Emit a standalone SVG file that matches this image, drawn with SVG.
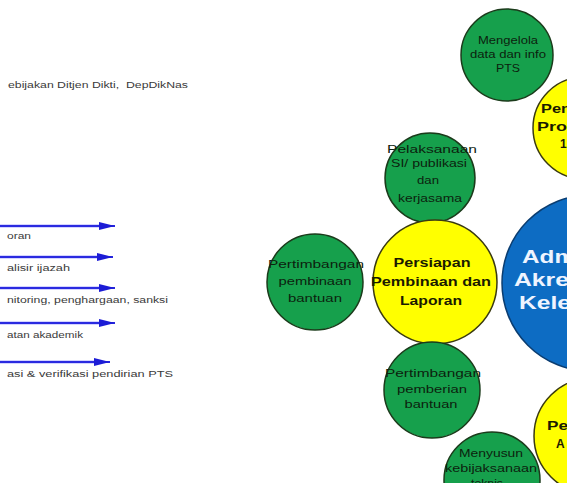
<svg xmlns="http://www.w3.org/2000/svg" width="567" height="483" viewBox="0 0 567 483">
<style>
.g{fill:#16a04c;stroke:#1b3b1b;stroke-width:1.5}
.y{fill:#ffff00;stroke:#3a3a10;stroke-width:1.5}
.b{fill:#0d6cc3;stroke:#0b3d70;stroke-width:1.5}
.gt{font-family:"Liberation Sans",Arial,sans-serif;font-size:10.5px;fill:#0c220e;text-anchor:middle}
.yt{font-family:"Liberation Sans",Arial,sans-serif;font-size:12px;font-weight:bold;fill:#1a1a00;text-anchor:middle}
.ys{font-family:"Liberation Sans",Arial,sans-serif;font-size:12px;font-weight:bold;fill:#1a1a00}
.bt{font-family:"Liberation Sans",Arial,sans-serif;font-size:18px;font-weight:bold;fill:#eef4ff}
.lt{font-family:"Liberation Sans",Arial,sans-serif;font-size:8.5px;fill:#3a3a3a;white-space:pre}
.ar{stroke:#2a2ae0;stroke-width:2;fill:none}
.ah{stroke:#b8b8ff;stroke-width:4;fill:none;opacity:0.6}
</style>
<defs>
<marker id="arr" markerUnits="userSpaceOnUse" markerWidth="17" markerHeight="9" refX="16" refY="4.5" orient="auto">
<path d="M0,0.5 L16,4.5 L0,8.5 z" fill="#1c1cd6"/>
</marker>
</defs>
<rect width="567" height="483" fill="#ffffff"/>

<g id="left-texts">
<text class="lt" x="8" y="88" textLength="180" lengthAdjust="spacingAndGlyphs">ebijakan Ditjen Dikti,  DepDikNas</text>
<text class="lt" x="7" y="239" textLength="24" lengthAdjust="spacingAndGlyphs">oran</text>
<text class="lt" x="7" y="271" textLength="63" lengthAdjust="spacingAndGlyphs">alisir ijazah</text>
<text class="lt" x="7" y="303" textLength="161" lengthAdjust="spacingAndGlyphs">nitoring, penghargaan, sanksi</text>
<text class="lt" x="7" y="338" textLength="76" lengthAdjust="spacingAndGlyphs">atan akademik</text>
<text class="lt" x="7" y="377" textLength="166" lengthAdjust="spacingAndGlyphs">asi &amp; verifikasi pendirian PTS</text>
</g>

<g id="connectors">
<line class="ah" x1="0" y1="226" x2="100" y2="226"/>
<line class="ar" x1="0" y1="226" x2="115" y2="226" marker-end="url(#arr)"/>
<line class="ah" x1="0" y1="257" x2="98" y2="257"/>
<line class="ar" x1="0" y1="257" x2="113" y2="257" marker-end="url(#arr)"/>
<line class="ah" x1="0" y1="288" x2="100" y2="288"/>
<line class="ar" x1="0" y1="288" x2="115" y2="288" marker-end="url(#arr)"/>
<line class="ah" x1="0" y1="323" x2="100" y2="323"/>
<line class="ar" x1="0" y1="323" x2="115" y2="323" marker-end="url(#arr)"/>
<line class="ah" x1="0" y1="362" x2="95" y2="362"/>
<line class="ar" x1="0" y1="362" x2="110" y2="362" marker-end="url(#arr)"/>
</g>

<g id="node-mengelola">
<circle class="g" cx="507" cy="55" r="46"/>
<text class="gt" x="508" y="44" textLength="60" lengthAdjust="spacingAndGlyphs">Mengelola</text>
<text class="gt" x="508" y="58" textLength="76" lengthAdjust="spacingAndGlyphs">data dan info</text>
<text class="gt" x="508" y="72" textLength="24" lengthAdjust="spacingAndGlyphs">PTS</text>
</g>

<g id="node-program">
<circle class="y" cx="584" cy="128" r="51"/>
<text class="ys" x="541" y="113" textLength="30" lengthAdjust="spacingAndGlyphs">Pen</text>
<text class="ys" x="537" y="131" textLength="30" lengthAdjust="spacingAndGlyphs">Pro</text>
<text class="ys" x="560" y="148">1</text>
</g>

<g id="node-administrasi">
<circle class="b" cx="590" cy="283" r="88"/>
<text class="bt" x="522" y="263" textLength="54" lengthAdjust="spacingAndGlyphs">Adm</text>
<text class="bt" x="514" y="286" textLength="55" lengthAdjust="spacingAndGlyphs">Akre</text>
<text class="bt" x="519" y="309" textLength="52" lengthAdjust="spacingAndGlyphs">Kele</text>
</g>

<g id="node-pelaksanaan">
<circle class="g" cx="430" cy="178" r="45"/>
<text class="gt" x="432" y="153" textLength="90" lengthAdjust="spacingAndGlyphs">Pelaksanaan</text>
<text class="gt" x="429" y="167" textLength="76" lengthAdjust="spacingAndGlyphs">SI/ publikasi</text>
<text class="gt" x="428" y="184" textLength="22" lengthAdjust="spacingAndGlyphs">dan</text>
<text class="gt" x="430" y="202" textLength="64" lengthAdjust="spacingAndGlyphs">kerjasama</text>
</g>

<g id="node-persiapan">
<circle class="y" cx="435" cy="282" r="62"/>
<text class="yt" x="432" y="267" textLength="77" lengthAdjust="spacingAndGlyphs">Persiapan</text>
<text class="yt" x="431" y="286" textLength="120" lengthAdjust="spacingAndGlyphs">Pembinaan dan</text>
<text class="yt" x="431" y="305" textLength="62" lengthAdjust="spacingAndGlyphs">Laporan</text>
</g>

<g id="node-pembinaan-bantuan">
<circle class="g" cx="315" cy="282" r="48"/>
<text class="gt" x="316" y="268" textLength="96" lengthAdjust="spacingAndGlyphs">Pertimbangan</text>
<text class="gt" x="315" y="285" textLength="73" lengthAdjust="spacingAndGlyphs">pembinaan</text>
<text class="gt" x="315" y="302" textLength="54" lengthAdjust="spacingAndGlyphs">bantuan</text>
</g>

<g id="node-pemberian-bantuan">
<circle class="g" cx="432" cy="390" r="48"/>
<text class="gt" x="433" y="377" textLength="96" lengthAdjust="spacingAndGlyphs">Pertimbangan</text>
<text class="gt" x="432" y="393" textLength="70" lengthAdjust="spacingAndGlyphs">pemberian</text>
<text class="gt" x="431" y="408" textLength="53" lengthAdjust="spacingAndGlyphs">bantuan</text>
</g>

<g id="node-akreditasi">
<circle class="y" cx="592" cy="436" r="58"/>
<text class="ys" x="547" y="430" textLength="21" lengthAdjust="spacingAndGlyphs">Pe</text>
<text class="ys" x="556" y="448">A</text>
</g>

<g id="node-menyusun">
<circle class="g" cx="492" cy="480" r="48"/>
<text class="gt" x="491" y="457" textLength="64" lengthAdjust="spacingAndGlyphs">Menyusun</text>
<text class="gt" x="491" y="472" textLength="92" lengthAdjust="spacingAndGlyphs">kebijaksanaan</text>
<text class="gt" x="487" y="487" textLength="32" lengthAdjust="spacingAndGlyphs">teknis</text>
</g>
</svg>
